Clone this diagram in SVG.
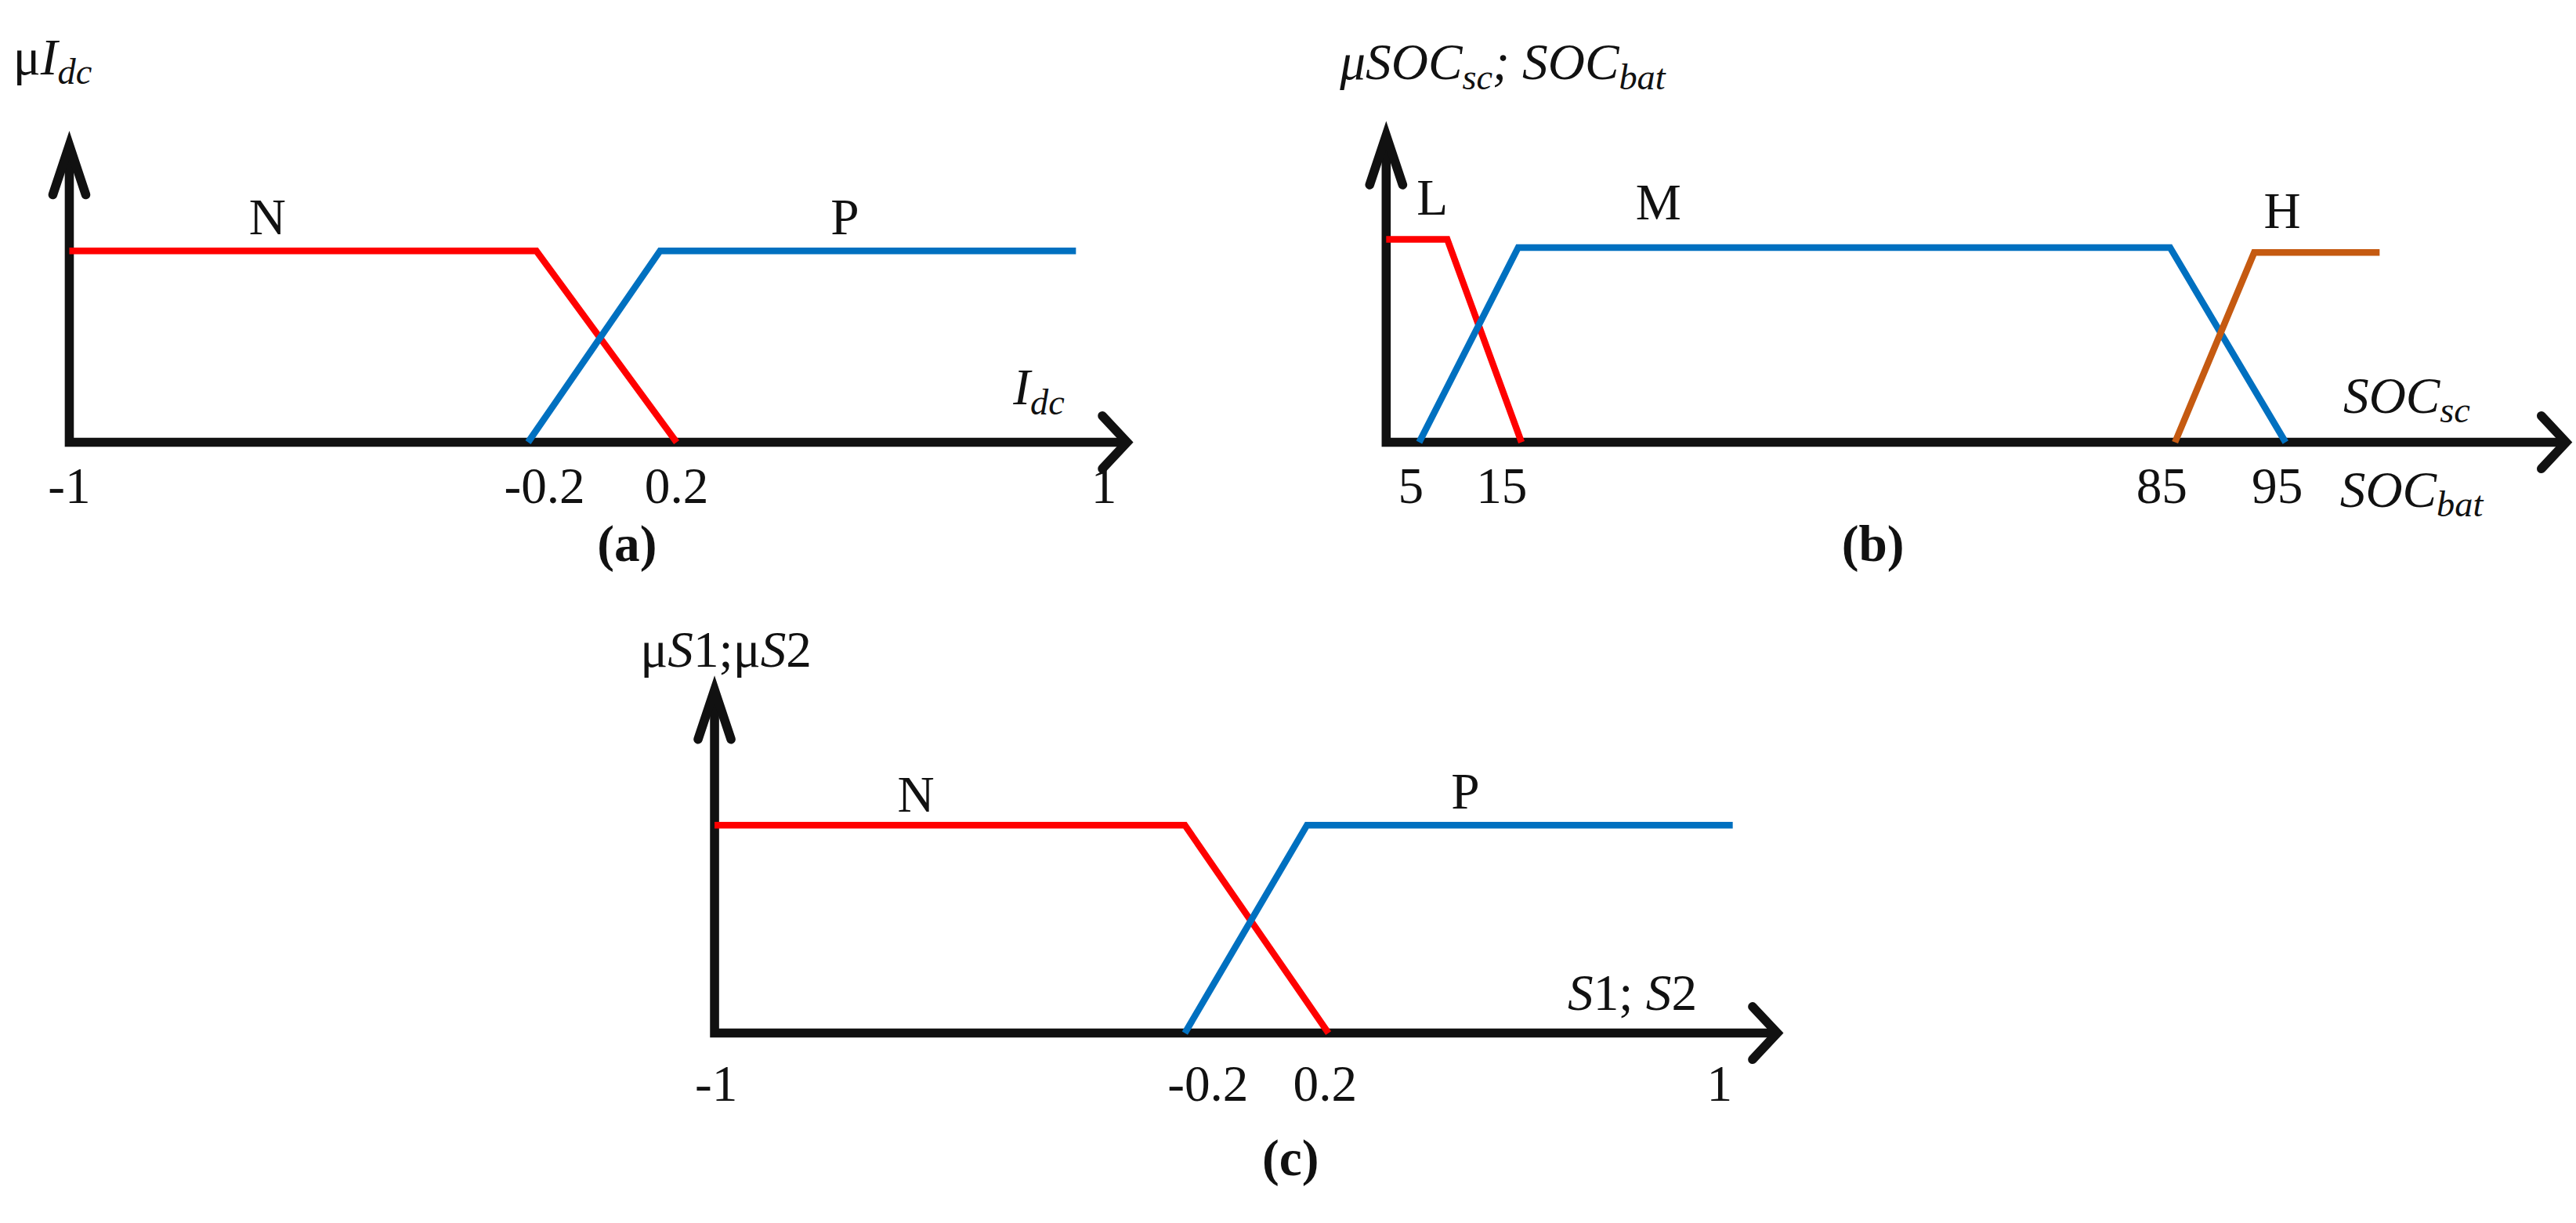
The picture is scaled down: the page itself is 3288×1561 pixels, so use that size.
<svg xmlns="http://www.w3.org/2000/svg" width="3288" height="1561" viewBox="0 0 3288 1561">
<style>
.ax{fill:none;stroke:#111;stroke-width:5.5}
.ar{fill:none;stroke:#111;stroke-width:5.5;stroke-linecap:round;stroke-linejoin:miter}
.r{fill:none;stroke:#ff0000;stroke-width:4}
.b{fill:none;stroke:#0070c0;stroke-width:4}
.o{fill:none;stroke:#c55a11;stroke-width:4}
text{font-family:"Liberation Serif",serif;font-size:31px;fill:#111}
.i{font-style:italic}
.bo{font-weight:bold}
.m{text-anchor:middle}
</style>
<rect width="3288" height="1561" fill="#fff"/>
<g transform="scale(2.10634)">
<g id="connectors">
<path class="ax" d="M42,90 V268 H680"/>
<path class="ar" d="M32,118 L42,88 L52,118"/>
<path class="ar" d="M668,252 L683,268 L668,284"/>
<path class="ax" d="M840,84 V268 H1552"/>
<path class="ar" d="M830,112 L840,82 L850,112"/>
<path class="ar" d="M1540,252 L1555,268 L1540,284"/>
<path class="ax" d="M433,420 V626 H1074"/>
<path class="ar" d="M423,448 L433,418 L443,448"/>
<path class="ar" d="M1062,610 L1077,626 L1062,642"/>
</g>
<g id="panel-a">
<polyline class="r" points="42,152 325,152 410,268"/>
<polyline class="b" points="320,268 400,152 652,152"/>
<text x="8" y="45">μ<tspan class="i">I</tspan><tspan class="i" font-size="22" dy="6">dc</tspan></text>
<text x="162" y="142" class="m">N</text>
<text x="512" y="142" class="m">P</text>
<text x="614" y="245" class="i">I<tspan font-size="22" dy="6">dc</tspan></text>
<text x="42" y="305" class="m">-1</text>
<text x="330" y="305" class="m">-0.2</text>
<text x="410" y="305" class="m">0.2</text>
<text x="669" y="305" class="m">1</text>
<text x="380" y="340" class="m bo">(a)</text>
</g>
<g id="panel-b">
<polyline class="r" points="840,145 877,145 922,268"/>
<polyline class="b" points="860,268 920,150 1315,150 1385,268"/>
<polyline class="o" points="1318,268 1366,153 1442,153"/>
<text x="812" y="48" class="i">μSOC<tspan font-size="22" dy="6">sc</tspan><tspan dy="-6">; SOC</tspan><tspan font-size="22" dy="6">bat</tspan></text>
<text x="868" y="130" class="m">L</text>
<text x="1005" y="133" class="m">M</text>
<text x="1383" y="138" class="m">H</text>
<text x="1420" y="250" class="i">SOC<tspan font-size="22" dy="6">sc</tspan></text>
<text x="855" y="305" class="m">5</text>
<text x="910" y="305" class="m">15</text>
<text x="1310" y="305" class="m">85</text>
<text x="1380" y="305" class="m">95</text>
<text x="1418" y="307" class="i">SOC<tspan font-size="22" dy="6">bat</tspan></text>
<text x="1135" y="340" class="m bo">(b)</text>
</g>
<g id="panel-c">
<polyline class="r" points="433,500 718,500 805,626"/>
<polyline class="b" points="718,626 792,500 1050,500"/>
<text x="388" y="404">μ<tspan class="i">S</tspan>1;μ<tspan class="i">S</tspan>2</text>
<text x="555" y="492" class="m">N</text>
<text x="888" y="490" class="m">P</text>
<text x="950" y="612"><tspan class="i">S</tspan>1; <tspan class="i">S</tspan>2</text>
<text x="434" y="667" class="m">-1</text>
<text x="732" y="667" class="m">-0.2</text>
<text x="803" y="667" class="m">0.2</text>
<text x="1042" y="667" class="m">1</text>
<text x="782" y="712" class="m bo">(c)</text>
</g>
</g>
</svg>
